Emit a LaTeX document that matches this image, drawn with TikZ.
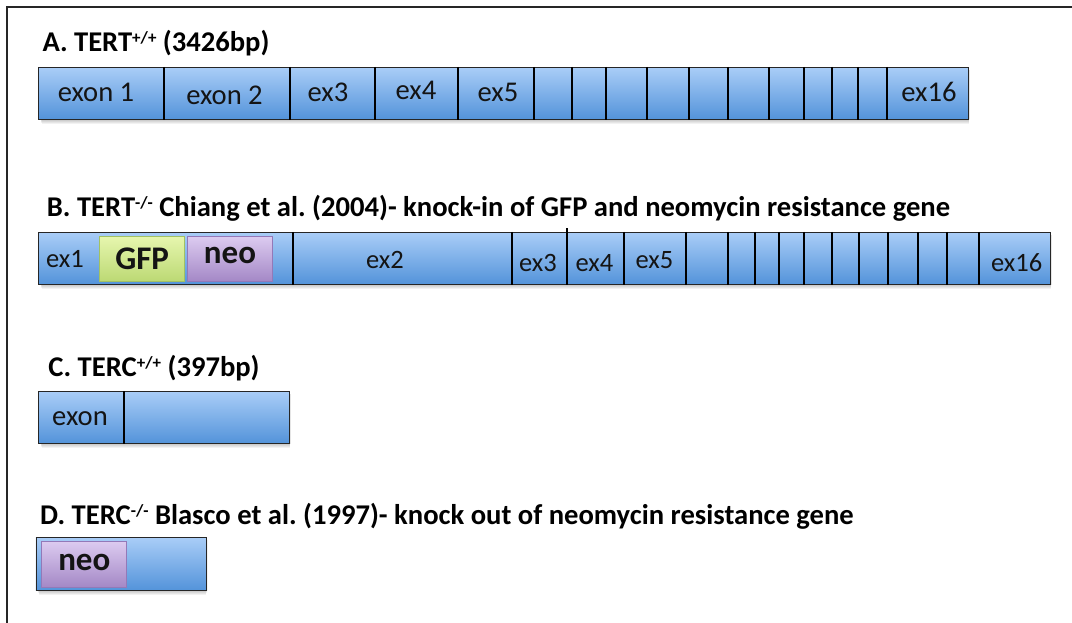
\documentclass[tikz,border=0pt]{standalone}
\usepackage{fontspec}
\setmainfont{Carlito}
\frenchspacing
\definecolor{barTop}{HTML}{A9CDF7}
\definecolor{barBot}{HTML}{5393DA}
\definecolor{barEdge}{HTML}{262626}
\definecolor{gfpTop}{HTML}{E6F6AE}
\definecolor{gfpBot}{HTML}{BCD974}
\definecolor{gfpEdge}{HTML}{A2C163}
\definecolor{neoTop}{HTML}{DCCBF0}
\definecolor{neoBot}{HTML}{A488C6}
\definecolor{neoEdge}{HTML}{9379B8}
\definecolor{txt}{HTML}{141414}

% genotype superscript, small and raised to cap height
\newcommand\geno[1]{\raisebox{8pt}{\fontsize{17}{17}\selectfont #1}}

% soft shadow under a box: x1 y1 x2 y2
\newcommand\barshadow[4]{%
  \foreach \k in {0,...,5}{%
    \fill[black, opacity=0.05] (#1+2+\k*0.3, #2+3) rectangle (#3+2-\k*0.3, #4+0.5+\k*0.9);
  }}

\tikzset{
  gene/.style={rectangle, draw=barEdge, line width=0.9pt, top color=barTop,
    bottom color=barBot, inner sep=0pt, anchor=north west},
  gfpbox/.style={rectangle, draw=gfpEdge, line width=1pt, top color=gfpTop,
    bottom color=gfpBot, inner sep=0pt, anchor=north west},
  neobox/.style={rectangle, draw=neoEdge, line width=1pt, top color=neoTop,
    bottom color=neoBot, inner sep=0pt, anchor=north west},
  divider/.style={line width=2.4pt, black},
  lbl/.style={font=\fontsize{28.6}{30}\selectfont, text=txt, anchor=base, inner sep=0pt},
  lblb/.style={font=\fontsize{26.5}{30}\selectfont, text=txt, anchor=base, inner sep=0pt},
  insert/.style={font=\bfseries\fontsize{33}{34}\selectfont, text=txt, anchor=base, inner sep=0pt},
  ttl/.style={font=\bfseries\fontsize{28.6}{30}\selectfont, text=black, anchor=base west, inner sep=0pt},
  frameline/.style={line width=1.8pt, black!85},
}

\begin{document}
\begin{tikzpicture}[x=1pt, y=-1pt]
\useasboundingbox (0,0) rectangle (1072,623);
\fill[white] (0,0) rectangle (1072,623);

% outer frame (top and left edges)
\coordinate (fTL) at (6.7,7.3);
\coordinate (fTR) at (1072,7.3);
\coordinate (fBL) at (6.7,623);
\draw[frameline] (fTR) -- (fTL) -- (fBL);

% ---------- A. TERT +/+ ----------
\node[ttl] (tA) at (42.3,51.7) {A. TERT\geno{+/+} (3426bp)};
\barshadow{38}{67}{968}{119}
\node[gene, minimum width=930pt, minimum height=52pt] (barA) at (38,67) {};
\foreach \d in {164,290,375,458,534,572,606,647,689,728,769,804,832,858,887}
  \draw[divider] (\d,0 |- barA.north) -- (\d,0 |- barA.south);
\node[lbl] (a1) at (96,101.5) {exon 1};
\node[lbl] (a2) at (224.5,104.5) {exon 2};
\node[lbl] (a3) at (328,101.5) {ex3};
\node[lbl] (a4) at (416,99.5) {ex4};
\node[lbl] (a5) at (498,101.5) {ex5};
\node[lbl] (a16) at (929,101.5) {ex16};

% ---------- B. TERT -/- ----------
\node[ttl] (tB) at (46.7,216.7) {B. TERT\geno{-/-} Chiang et al. (2004)- knock-in of GFP and neomycin resistance gene};
\barshadow{38}{232}{1050}{284}
\node[gene, minimum width=1012pt, minimum height=52pt] (barB) at (38,232) {};
\foreach \d in {293,512,624,686,728,755,779,804,832,859,888,918,947,979}
  \draw[divider] (\d,0 |- barB.north) -- (\d,0 |- barB.south);
\draw[divider] (567,228.5) -- (567,0 |- barB.south);
\node[gfpbox, minimum width=84.7pt, minimum height=44.7pt] (gfp) at (99.3,236) {};
\node[neobox, minimum width=84.4pt, minimum height=44.7pt] (neoB) at (187.3,236) {};
\node[lblb] (b1) at (65,267.5) {ex1};
\node[insert] (bg) at (gfp.center |- 0,269.5) {GFP};
\node[insert] (bn) at (neoB.center |- 0,263) {neo};
\node[lblb] (b2) at (385,269) {ex2};
\node[lblb] (b3) at (538,271) {ex3};
\node[lblb] (b4) at (594.5,271) {ex4};
\node[lblb] (b5) at (654.5,268.5) {ex5};
\node[lblb] (b16) at (1016.7,271) {ex16};

% ---------- C. TERC +/+ ----------
\node[ttl] (tC) at (48.3,376.7) {C. TERC\geno{+/+} (397bp)};
\barshadow{38}{391}{289}{443}
\node[gene, minimum width=251pt, minimum height=52pt] (barC) at (38,391) {};
\draw[divider] (124,0 |- barC.north) -- (124,0 |- barC.south);
\node[lbl] (c1) at (80,425) {exon};

% ---------- D. TERC -/- ----------
\node[ttl] (tD) at (40,524) {D. TERC\geno{-/-} Blasco et al. (1997)- knock out of neomycin resistance gene};
\barshadow{35.5}{537}{205.5}{590}
\node[gene, minimum width=170pt, minimum height=53pt] (barD) at (35.5,537) {};
\node[neobox, minimum width=85pt, minimum height=46pt] (neoD) at (41.3,540.7) {};
\node[insert] (dn) at (neoD.center |- 0,570) {neo};
\end{tikzpicture}
\end{document}
